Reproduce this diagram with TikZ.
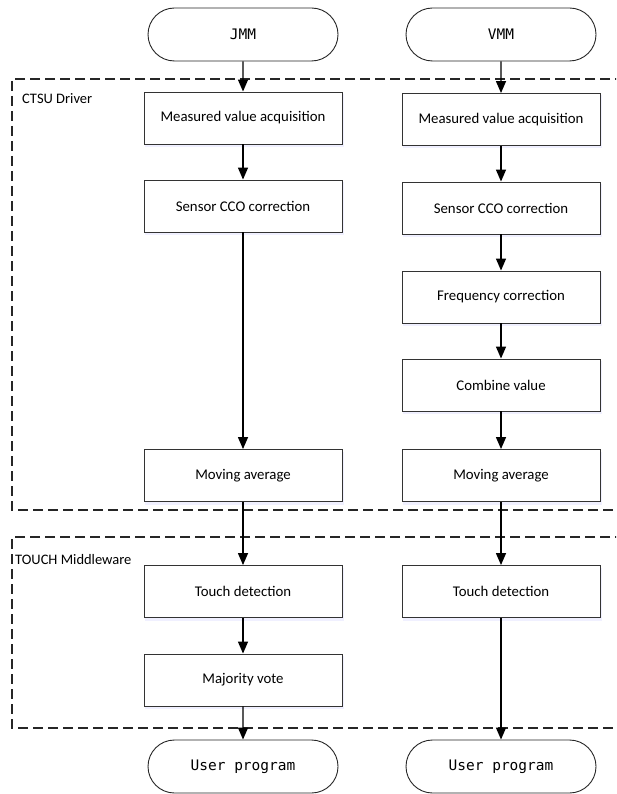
\documentclass[tikz,border=0pt]{standalone}
\usepackage{fontspec}
\setmainfont{Carlito}
\newfontfamily\monof{DejaVu Sans Mono}
\usetikzlibrary{arrows.meta,shapes.misc}
\tikzset{
  procbox/.style={draw=black!80, line width=0.9pt, fill=white, minimum width=198pt, minimum height=52pt, inner sep=0pt, font=\fontsize{14.8}{16}\selectfont},
  termbox/.style={draw=black!85, line width=0.9pt, fill=white, rounded rectangle, minimum width=190pt, minimum height=53pt, inner sep=0pt, font=\monof\fontsize{14.5}{16}\selectfont},
  flow/.style={line width=1.4pt, -{Triangle[length=12pt,width=10pt]}},
  region/.style={draw=black!85, line width=1.3pt, dash pattern=on 10pt off 5pt},
  regionlabel/.style={anchor=west, inner sep=0pt, font=\fontsize{14.5}{16}\selectfont}
}
\begin{document}
\begin{tikzpicture}[x=1pt,y=-1pt]
\useasboundingbox (0,0) rectangle (616,794);
\clip (0,0) rectangle (616,794);
% regions
\draw[region] (640,79) -- (12,79) -- (12,510) -- (640,510);
\draw[region] (640,537) -- (12,537) -- (12,728) -- (640,728);
\node[regionlabel] (lctsu) at (22,99) {CTSU Driver};
\node[regionlabel] (ltouch) at (15,560) {TOUCH Middleware};
% shadows
\foreach \cx/\cy in {243/118,243/206,243/475.5,243/591.5,243/680,501/119.5,501/208,501/297,501/385,501/475.5,501/591.5}{
  \fill[blue!6] (\cx-98,\cy-24) rectangle (\cx+101,\cy+29);
}
% left column
\node[termbox] (jmm) at (243,34.5) {JMM};
\node[procbox] (l1) at (243,118) {Measured value acquisition};
\node[procbox] (l2) at (243,206) {Sensor CCO correction};
\node[procbox] (l3) at (243,475.5) {Moving average};
\node[procbox] (l4) at (243,591.5) {Touch detection};
\node[procbox] (l5) at (243,680) {Majority vote};
\node[termbox] (lu) at (243,766.5) {User program};
% right column
\node[termbox] (vmm) at (501,34.5) {VMM};
\node[procbox] (r1) at (501,119.5) {Measured value acquisition};
\node[procbox] (r2) at (501,208) {Sensor CCO correction};
\node[procbox] (r3) at (501,297) {Frequency correction};
\node[procbox] (r4) at (501,385) {Combine value};
\node[procbox] (r5) at (501,475.5) {Moving average};
\node[procbox] (r6) at (501,591.5) {Touch detection};
\node[termbox] (ru) at (501,766.5) {User program};
% connectors
\draw[flow] (jmm) -- (l1);
\draw[flow] (l1) -- (l2);
\draw[flow] (l2) -- (l3);
\draw[flow] (l3) -- (l4);
\draw[flow] (l4) -- (l5);
\draw[flow] (l5) -- (lu);
\draw[flow] (vmm) -- (r1);
\draw[flow] (r1) -- (r2);
\draw[flow] (r2) -- (r3);
\draw[flow] (r3) -- (r4);
\draw[flow] (r4) -- (r5);
\draw[flow] (r5) -- (r6);
\draw[flow] (r6) -- (ru);
\end{tikzpicture}
\end{document}
